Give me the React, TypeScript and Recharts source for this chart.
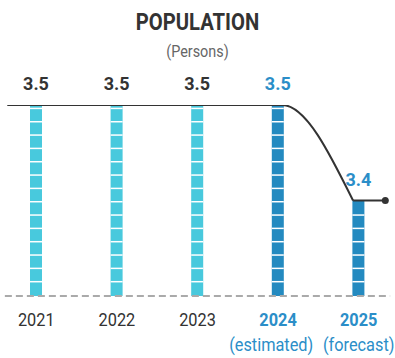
import React from "react";
import {
  ComposedChart, Bar, Line, XAxis, YAxis, LabelList, ReferenceLine,
} from "recharts";

const years = ["2021", "2022", "2023", "2024", "2025"];
const subLabels = ["", "", "", "(estimated)", "(forecast)"];
const population = [3.5, 3.5, 3.5, 3.5, 3.4];
const isProjection = [false, false, false, true, true];

// trend line, x in category-index units
const trendX = [-0.36, 3.05, 3.93];
const trendValues = [3.5, 3.5, 3.4];
const tailX = [3.93, 4.33];
const tailValues = [3.4, 3.4];

const LIGHT = "#48c9dd";
const DARK = "#248ac0";
const BLUE_TEXT = "#2b8ec8";
const INK = "#333";

const data = years.map((y, i) => ({ year: y, value: population[i] }));
const trendData = trendX.map((x, i) => ({ x, v: trendValues[i] }));
const tailData = tailX.map((x, i) => ({ x, v: tailValues[i] }));

function StripedBar(props: any) {
  const { x, y, width, height, index } = props;
  const bottom = y + height;
  const stripes: number[] = [];
  for (let yy = bottom - 14.3; yy > y + 2.5; yy -= 13.33) stripes.push(yy);
  return (
    <g>
      <rect x={x} y={y} width={width} height={height} fill={isProjection[index] ? DARK : LIGHT} />
      {stripes.map((s, k) => (
        <line key={k} x1={x} x2={x + width} y1={s} y2={s} stroke="#fff" strokeWidth={1.5} />
      ))}
    </g>
  );
}

function YearTick(props: any) {
  const { x, y, payload, index } = props;
  const proj = isProjection[index];
  // the two sub-labels sit close together, so the first one leans left
  const subShift = index === 3 ? -8 : 0;
  return (
    <g transform={`translate(${x},${y})`}>
      <text
        transform="scale(0.86,1)"
        y={30}
        textAnchor="middle"
        fontSize={19}
        fontWeight={proj ? 700 : 400}
        fill={proj ? BLUE_TEXT : INK}
      >
        {payload.value}
      </text>
      {subLabels[index] && (
        <text transform="scale(0.86,1)" x={subShift} y={55} textAnchor="middle" fontSize={19} fill={BLUE_TEXT}>
          {subLabels[index]}
        </text>
      )}
    </g>
  );
}

function ValueLabel(props: any) {
  const { x, y, width, value, index } = props;
  return (
    <text
      x={x + width / 2}
      y={y - 15}
      textAnchor="middle"
      fontSize={18}
      fontWeight={700}
      fill={isProjection[index] ? BLUE_TEXT : INK}
    >
      {Number(value).toFixed(1)}
    </text>
  );
}

export default function App() {
  return (
    <div style={{ position: "absolute", left: 0, top: 0, width: 395, height: 358, background: "#fff", fontFamily: "Roboto, sans-serif" }}>
      <div style={{ position: "absolute", top: 10.4, left: 0, width: 395, textAlign: "center", fontSize: 23.5, lineHeight: "24px", fontWeight: 700, color: INK, transform: "scaleX(0.86)" }}>
        POPULATION
      </div>
      <div style={{ position: "absolute", top: 44, left: 0, width: 395, textAlign: "center", fontSize: 16, lineHeight: "16px", color: "#666", transform: "scaleX(0.9)" }}>
        (Persons)
      </div>
      <ComposedChart
        width={395}
        height={358}
        data={data}
        margin={{ top: 105, right: -4, bottom: 2, left: -4 }}
        style={{ position: "absolute", left: 0, top: 0 }}
      >
        <XAxis
          dataKey="year"
          height={60}
          axisLine={false}
          tickLine={false}
          tickSize={0}
          tickMargin={0}
          interval={0}
          tick={<YearTick />}
        />
        <XAxis xAxisId="l" type="number" dataKey="x" domain={[-0.5, 4.5]} allowDataOverflow hide />
        <YAxis domain={[3.3, 3.5]} allowDataOverflow hide />
        <ReferenceLine
          xAxisId="l"
          segment={[{ x: -0.39, y: 3.3 }, { x: 4.39, y: 3.3 }]}
          stroke="#aaa"
          strokeWidth={2}
          strokeDasharray="7 4"
        />
        <Bar dataKey="value" barSize={12} shape={<StripedBar />} isAnimationActive={false}>
          <LabelList dataKey="value" content={<ValueLabel />} />
        </Bar>
        <Line
          xAxisId="l"
          data={trendData}
          dataKey="v"
          type="monotoneX"
          stroke={INK}
          strokeWidth={2}
          dot={false}
          activeDot={false}
          isAnimationActive={false}
        />
        <Line
          xAxisId="l"
          data={tailData}
          dataKey="v"
          type="linear"
          stroke={INK}
          strokeWidth={2}
          dot={(p: any) =>
            p.index === tailData.length - 1 ? (
              <circle key="end" cx={p.cx} cy={p.cy} r={3.5} fill={INK} stroke="none" />
            ) : (
              <g key={`d${p.index}`} />
            )
          }
          activeDot={false}
          isAnimationActive={false}
        />
      </ComposedChart>
    </div>
  );
}
